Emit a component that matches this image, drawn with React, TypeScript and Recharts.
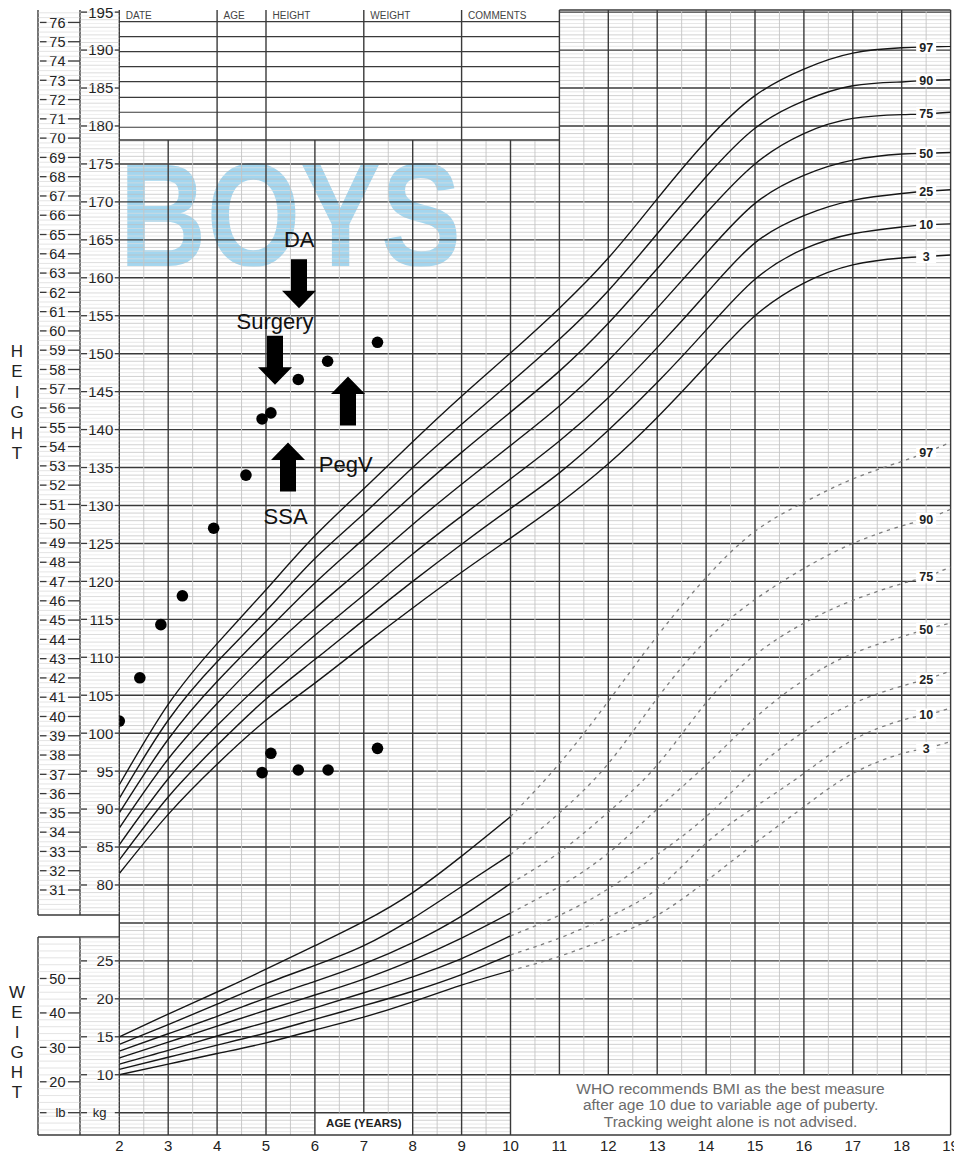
import React from 'react';
import {
  ComposedChart,
  Line,
  Scatter,
  XAxis,
  YAxis,
  ReferenceLine,
  ReferenceDot,
} from 'recharts';

// ---------- reference curves ----------
const heightAges = [2, 3, 4, 5, 6, 7, 8, 9, 10, 11, 12, 13, 14, 15, 16, 17, 18, 18.5, 19];
const heightP97 = [93.2, 103.8, 111.8, 118.9, 126.0, 132.2, 138.4, 144.4, 150.1, 156.0, 162.6, 170.4, 178.0, 184.0, 187.5, 189.6, 190.3, 190.4, 190.5];
const heightP90 = [91.4, 101.7, 109.4, 116.1, 123.0, 128.9, 135.0, 140.7, 146.2, 151.9, 158.3, 165.8, 173.3, 179.7, 183.3, 185.3, 185.8, 186.0, 186.1];
const heightP75 = [89.5, 99.2, 106.8, 113.4, 119.8, 125.6, 131.4, 137.0, 142.3, 147.7, 154.0, 161.2, 168.5, 175.0, 179.0, 181.0, 181.5, 181.6, 181.8];
const heightP50 = [87.5, 96.6, 103.9, 110.5, 116.4, 121.9, 127.5, 132.8, 137.9, 143.1, 149.1, 156.0, 163.2, 169.8, 173.5, 175.5, 176.3, 176.4, 176.5];
const heightP25 = [85.3, 94.0, 101.0, 107.2, 112.9, 118.2, 123.6, 128.6, 133.5, 138.5, 144.2, 150.8, 157.9, 164.6, 168.2, 170.2, 171.1, 171.4, 171.6];
const heightP10 = [83.3, 91.6, 98.4, 104.5, 109.7, 114.9, 120.0, 124.9, 129.6, 134.3, 139.9, 146.2, 153.1, 159.8, 163.8, 165.8, 166.7, 167.0, 167.1];
const heightP3 = [81.5, 89.3, 95.9, 101.7, 106.6, 111.6, 116.5, 121.2, 125.7, 130.3, 135.5, 141.6, 148.4, 155.0, 159.3, 161.7, 162.6, 162.8, 163.0];

// weight in kg, solid part (2-10 y)
const weightAgesEarly = [2, 3, 4, 5, 6, 7, 8, 9, 10];
const weightP97Early = [15.0, 18.0, 20.9, 23.9, 27.0, 30.2, 34.0, 38.8, 44.0];
const weightP90Early = [14.0, 16.6, 19.3, 22.0, 24.4, 27.0, 30.6, 34.8, 39.0];
const weightP75Early = [13.1, 15.4, 17.7, 20.1, 22.3, 24.6, 27.4, 30.9, 35.2];
const weightP50Early = [12.2, 14.3, 16.4, 18.5, 20.5, 22.6, 25.1, 28.0, 31.3];
const weightP25Early = [11.4, 13.2, 15.1, 16.9, 18.8, 20.8, 22.9, 25.3, 28.3];
const weightP10Early = [10.7, 12.3, 13.9, 15.5, 17.3, 19.1, 21.0, 23.2, 25.8];
const weightP3Early = [10.0, 11.4, 12.8, 14.2, 15.9, 17.6, 19.6, 21.8, 23.7];

// weight in kg, dashed part (10-19 y)
const weightAgesLate = [10, 11, 12, 13, 14, 15, 16, 17, 18, 18.5, 19];
const weightP97Late = [44.0, 51.0, 59.2, 67.8, 75.5, 81.6, 85.4, 88.5, 90.8, 92.0, 93.3];
const weightP90Late = [39.0, 44.5, 51.0, 59.6, 67.2, 72.6, 76.7, 80.0, 82.3, 83.2, 84.5];
const weightP75Late = [35.2, 39.3, 44.6, 50.8, 59.0, 65.3, 69.5, 72.5, 74.7, 75.6, 76.9];
const weightP50Late = [31.3, 34.8, 39.2, 45.0, 50.8, 57.0, 62.0, 65.5, 67.7, 68.7, 69.5];
const weightP25Late = [28.3, 31.0, 34.5, 39.0, 44.0, 50.2, 55.2, 58.9, 61.2, 62.1, 63.2];
const weightP10Late = [25.8, 28.0, 30.8, 34.5, 40.5, 45.3, 49.7, 54.1, 56.7, 57.4, 58.3];
const weightP3Late = [23.7, 25.6, 28.0, 31.0, 35.5, 40.5, 45.3, 49.7, 52.3, 53.0, 53.9];

const percentiles = ['97', '90', '75', '50', '25', '10', '3'];

// ---------- patient measurements ----------
const patientHeightAges = [2.0, 2.42, 2.85, 3.29, 3.93, 4.59, 4.92, 5.1, 5.66, 6.26, 7.28];
const patientHeights = [101.6, 107.3, 114.3, 118.1, 127.0, 134.0, 141.4, 142.2, 146.6, 149.0, 151.5];
const patientWeightAges = [4.92, 5.1, 5.66, 6.27, 7.28];
const patientWeights = [49.8, 52.35, 50.15, 50.15, 53.0];

// ---------- annotations ----------
const arrows = [
  { age: 5.675, tip: 156.0, dir: 'down' }, // DA
  { age: 5.184, tip: 145.9, dir: 'down' }, // Surgery
  { age: 6.677, tip: 147.0, dir: 'up' }, // PegV
  { age: 5.45, tip: 138.3, dir: 'up' }, // SSA
];
const notes = [
  { text: 'DA', age: 5.68, cm: 164.0 },
  { text: 'Surgery', age: 5.184, cm: 153.2 },
  { text: 'PegV', age: 6.63, cm: 134.4 },
  { text: 'SSA', age: 5.4, cm: 127.6 },
];
const tableColumns = [
  { label: 'DATE', age: 2 },
  { label: 'AGE', age: 4 },
  { label: 'HEIGHT', age: 5 },
  { label: 'WEIGHT', age: 7 },
  { label: 'COMMENTS', age: 9 },
];
const tableRows = [193.74, 191.76, 189.79, 187.81, 185.84, 183.78, 181.81, 179.83];
const whoNote = [
  'WHO recommends BMI as the best measure',
  'after age 10 due to variable age of puberty.',
  'Tracking weight alone is not advised.',
];

// ---------- tick labels ----------
const xTicks = [2, 3, 4, 5, 6, 7, 8, 9, 10, 11, 12, 13, 14, 15, 16, 17, 18, 19];
const cmLabels = [80, 85, 90, 95, 100, 105, 110, 115, 120, 125, 130, 135, 140, 145, 150, 155, 160, 165, 170, 175, 180, 185, 190, 195];
const kgLabels = [10, 15, 20, 25];
const inchLabels = [31, 32, 33, 34, 35, 36, 37, 38, 39, 40, 41, 42, 43, 44, 45, 46, 47, 48, 49, 50, 51, 52, 53, 54, 55, 56, 57, 58, 59, 60, 61, 62, 63, 64, 65, 66, 67, 68, 69, 70, 71, 72, 73, 74, 75, 76];
const lbLabels = [20, 30, 40, 50];

// ---------- layout ----------
const W = 954;
const H = 1155;
const MARGIN = { top: 10, right: 3.4, bottom: 0, left: 38 };
const IN_W = 42;
const CM_W = 39.3;
const X_H = 20;
const Y_DOMAIN: [number, number] = [47.06, 195.28];
const X_DOMAIN: [number, number] = [2, 19];
const KG_OFFSET = 45; // kg scale shares the cm axis: 10 kg sits on the 55 line
const IN_OFFSET = 0.6;
const TABLE_BOTTOM = 178.16;
const BOX_TOP = 55;
const AGE_BOX_TOP = 50;
const HEIGHT_BOX_BOTTOM = 76.05;
const WEIGHT_BOX_TOP = 73.15;
const FONT = '"Liberation Sans", Arial, Helvetica, sans-serif';

const PLOT_LEFT = MARGIN.left + IN_W + CM_W;
const PLOT_W = W - MARGIN.right - PLOT_LEFT;
const PLOT_H = H - MARGIN.top - X_H;
const PX_PER_CM = PLOT_H / (Y_DOMAIN[1] - Y_DOMAIN[0]);
const AGE_PER_PX = (X_DOMAIN[1] - X_DOMAIN[0]) / PLOT_W;
const COL_LEFT_AGE = X_DOMAIN[0] - (IN_W + CM_W) * AGE_PER_PX;
const COL_MID_AGE = X_DOMAIN[0] - CM_W * AGE_PER_PX;

const DARK = '#3a3a3a';
const CURVE = '#161616';

const key = (v: number) => v.toFixed(3);
const inchToCoord = (i: number) => i * 2.54 + IN_OFFSET;
const lbToCoord = (lb: number) => lb / 2.2046 + KG_OFFSET;

// table rows for the library
const toRows = (ages: number[], vals: number[], add = 0) =>
  ages.map((a, i) => ({ age: a, v: vals[i] + add }));

const heightSeries = [heightP97, heightP90, heightP75, heightP50, heightP25, heightP10, heightP3].map(
  (vals, i) => ({ pct: percentiles[i], values: vals, data: toRows(heightAges, vals) })
);
const weightEarly = [weightP97Early, weightP90Early, weightP75Early, weightP50Early, weightP25Early, weightP10Early, weightP3Early].map(
  (vals) => toRows(weightAgesEarly, vals, KG_OFFSET)
);
const weightLate = [weightP97Late, weightP90Late, weightP75Late, weightP50Late, weightP25Late, weightP10Late, weightP3Late].map(
  (vals, i) => ({ pct: percentiles[i], values: vals, data: toRows(weightAgesLate, vals, KG_OFFSET) })
);
const heightPoints = toRows(patientHeightAges, patientHeights);
const weightPoints = toRows(patientWeightAges, patientWeights, KG_OFFSET);
const LABEL_AGE = 18.5;
const hLabelIdx = heightAges.indexOf(LABEL_AGE);
const wLabelIdx = weightAgesLate.indexOf(LABEL_AGE);

// ---------- grid ----------
type Seg = { x1: number; x2: number; y1: number; y2: number; stroke: string; w: number };
const gridSegs: Seg[] = [];
for (let i = 95; i <= 390; i++) {
  const c = i / 2;
  let spans: [number, number][];
  if (c > TABLE_BOTTOM) spans = [[11, 19]];
  else if (c < AGE_BOX_TOP) spans = [[2, 6], [8, 10]];
  else if (c < BOX_TOP) spans = [[2, 10]];
  else spans = [[2, 19]];
  const major = c % 5 === 0;
  const stroke = major ? DARK : Number.isInteger(c) ? '#bdbdbd' : '#dcdcdc';
  const w = major ? 1.4 : 0.7;
  spans.forEach(([a, b]) => gridSegs.push({ x1: a, x2: b, y1: c, y2: c, stroke, w }));
}
const tableSeps = [2, 4, 5, 7, 9, 11];
for (let j = 4; j <= 38; j++) {
  const a = j / 2;
  let top = Y_DOMAIN[1];
  let bottom = Y_DOMAIN[0];
  if (a < 11 && !tableSeps.includes(a)) top = TABLE_BOTTOM;
  if (a > 10 && a < 19) bottom = BOX_TOP;
  if (a > 6 && a < 8) bottom = AGE_BOX_TOP;
  const major = Number.isInteger(a);
  gridSegs.push({ x1: a, x2: a, y1: bottom, y2: top, stroke: major ? DARK : '#c4c4c4', w: major ? 1.4 : 0.9 });
}
// table, borders, left label columns
tableRows.forEach((c) => gridSegs.push({ x1: 2, x2: 11, y1: c, y2: c, stroke: DARK, w: 1.2 }));
gridSegs.push({ x1: 2, x2: 11, y1: TABLE_BOTTOM, y2: TABLE_BOTTOM, stroke: DARK, w: 1.4 });
gridSegs.push({ x1: 11, x2: 19, y1: Y_DOMAIN[1], y2: Y_DOMAIN[1], stroke: DARK, w: 1.4 });
gridSegs.push({ x1: COL_LEFT_AGE, x2: 19, y1: Y_DOMAIN[0], y2: Y_DOMAIN[0], stroke: DARK, w: 1.6 });
[COL_LEFT_AGE, COL_MID_AGE].forEach((a) => {
  gridSegs.push({ x1: a, x2: a, y1: HEIGHT_BOX_BOTTOM, y2: Y_DOMAIN[1], stroke: DARK, w: 1.4 });
  gridSegs.push({ x1: a, x2: a, y1: Y_DOMAIN[0], y2: WEIGHT_BOX_TOP, stroke: DARK, w: 1.4 });
});
[HEIGHT_BOX_BOTTOM, WEIGHT_BOX_TOP].forEach((c) =>
  gridSegs.push({ x1: COL_LEFT_AGE, x2: 2, y1: c, y2: c, stroke: DARK, w: 1.4 })
);

// ---------- left axis ticks ----------
const cmTicks: number[] = [];
for (let i = 153; i <= 390; i++) cmTicks.push(i / 2);
for (let i = 95; i <= 146; i++) cmTicks.push(i / 2);
const cmLabelAt = new Map<string, string>();
cmLabels.forEach((v) => cmLabelAt.set(key(v), String(v)));
kgLabels.forEach((kg) => cmLabelAt.set(key(kg + KG_OFFSET), String(kg)));
cmLabelAt.set(key(AGE_BOX_TOP), 'kg');

const inTicks: number[] = [];
for (let q = 120; q <= 307; q++) {
  const c = inchToCoord(q / 4);
  if (c > HEIGHT_BOX_BOTTOM + 0.3 && c < Y_DOMAIN[1]) inTicks.push(c);
}
for (let lb = 6; lb <= 62; lb += 2) {
  const c = lbToCoord(lb);
  if (c < WEIGHT_BOX_TOP - 0.3 && c > Y_DOMAIN[0] + 0.3) inTicks.push(c);
}
inTicks.push(AGE_BOX_TOP);
const inLabelAt = new Map<string, string>();
inchLabels.forEach((i) => inLabelAt.set(key(inchToCoord(i)), String(i)));
lbLabels.forEach((lb) => inLabelAt.set(key(lbToCoord(lb)), String(lb)));
inLabelAt.set(key(AGE_BOX_TOP), 'lb');

function CmTick(p: any) {
  const v = p.payload.value;
  const R = p.x;
  const L = R - CM_W;
  const y = p.y;
  const label = cmLabelAt.get(key(v));
  const faint = Number.isInteger(v) ? '#c4c4c4' : '#e2e2e2';
  return (
    <g>
      <line x1={L} x2={R} y1={y} y2={y} stroke={faint} strokeWidth={0.6} />
      {label && (
        <g>
          <line x1={L + 1} x2={L + 7} y1={y} y2={y} stroke={DARK} strokeWidth={1.3} />
          <line x1={R - 4.5} x2={R} y1={y} y2={y} stroke={DARK} strokeWidth={1.3} />
          {label === 'kg' ? (
            <text x={L + 19.5} y={y} dy="0.35em" textAnchor="middle" fontSize={13} fill="#222">kg</text>
          ) : (
            <text x={R - 6} y={y} dy="0.36em" textAnchor="end" fontSize={15} fill="#222">{label}</text>
          )}
        </g>
      )}
    </g>
  );
}

function InTick(p: any) {
  const v = p.payload.value;
  const R = p.x;
  const L = R - IN_W;
  const y = p.y;
  const label = inLabelAt.get(key(v));
  return (
    <g>
      <line x1={L} x2={R} y1={y} y2={y} stroke="#d2d2d2" strokeWidth={0.6} />
      {label && (
        <g>
          <line x1={L + 2} x2={L + 8.5} y1={y} y2={y} stroke={DARK} strokeWidth={1.3} />
          <line x1={L + 30} x2={R} y1={y} y2={y} stroke={DARK} strokeWidth={1.3} />
          <text x={L + 27.5} y={y} dy="0.36em" textAnchor="end" fontSize={label === 'lb' ? 13 : 14.5} fill="#222">{label}</text>
        </g>
      )}
    </g>
  );
}

// ---------- shapes ----------
function Arrow({ cx, cy, dir }: any) {
  const s = dir === 'down' ? -1 : 1;
  const hw = 17;
  const sw = 8;
  const hl = 17.5;
  const len = 49;
  const pts = [[0, 0], [hw, s * hl], [sw, s * hl], [sw, s * len], [-sw, s * len], [-sw, s * hl], [-hw, s * hl]];
  return <polygon points={pts.map(([dx, dy]) => `${cx + dx},${cy + dy}`).join(' ')} fill="#000" />;
}

const pctLabel = (text: string) => (p: any) => (
  <g>
    <rect x={p.cx - 10} y={p.cy - 6.5} width={20} height={13} fill="#fff" />
    <text x={p.cx} y={p.cy} dy="0.36em" textAnchor="middle" fontSize={12.5} fontWeight="bold" fill="#222">{text}</text>
  </g>
);

const patientDot = (p: any) => <circle cx={p.cx} cy={p.cy} r={5.8} fill="#000" />;

const ySVG = (c: number) => MARGIN.top + (Y_DOMAIN[1] - c) * PX_PER_CM;
const sideTitles = [
  { text: 'HEIGHT', top: 351, step: 20.5 },
  { text: 'WEIGHT', top: 991.7, step: 20 },
];

export default function App() {
  return (
    <div style={{ position: 'relative', width: W, height: H, background: '#fff', fontFamily: FONT, overflow: 'hidden' }}>
      <style>{'body{margin:0}'}</style>
      <svg width={W} height={H} style={{ position: 'absolute', left: 0, top: 0 }}>
        <text
          x={PLOT_LEFT}
          y={ySVG(161.6)}
          fontSize={147}
          fontWeight="bold"
          fill="#a3d6ef"
          textLength={342}
          lengthAdjust="spacingAndGlyphs"
        >
          BOYS
        </text>
        {sideTitles.map((t) =>
          t.text.split('').map((ch, i) => (
            <text key={t.text + i} x={17} y={t.top + i * t.step} dy="0.35em" textAnchor="middle" fontSize={17} fill="#222">
              {ch}
            </text>
          ))
        )}
      </svg>
      <ComposedChart width={W} height={H} margin={MARGIN}>
        <XAxis
          type="number"
          dataKey="age"
          domain={X_DOMAIN}
          allowDataOverflow
          ticks={xTicks}
          interval={0}
          height={X_H}
          axisLine={false}
          tickLine={false}
          tickSize={0}
          tickMargin={5}
          tick={{ fontSize: 15, fill: '#222' }}
        />
        <YAxis
          yAxisId="cm"
          type="number"
          domain={Y_DOMAIN}
          allowDataOverflow
          ticks={cmTicks}
          interval={0}
          width={CM_W}
          axisLine={false}
          tickLine={false}
          tickSize={0}
          tickMargin={0}
          tick={(p: any) => <CmTick {...p} />}
        />
        <YAxis
          yAxisId="in"
          type="number"
          domain={Y_DOMAIN}
          allowDataOverflow
          ticks={inTicks}
          interval={0}
          width={IN_W}
          axisLine={false}
          tickLine={false}
          tickSize={0}
          tickMargin={0}
          tick={(p: any) => <InTick {...p} />}
        />

        {gridSegs.map((s, i) => (
          <ReferenceLine
            key={'g' + i}
            yAxisId="cm"
            ifOverflow="visible"
            segment={[{ x: s.x1, y: s.y1 }, { x: s.x2, y: s.y2 }]}
            stroke={s.stroke}
            strokeWidth={s.w}
          />
        ))}

        {heightSeries.map((s) => (
          <Line
            key={'h' + s.pct}
            yAxisId="cm"
            data={s.data}
            dataKey="v"
            type="natural"
            stroke={CURVE}
            strokeWidth={1.4}
            dot={false}
            activeDot={false}
            isAnimationActive={false}
          />
        ))}
        {weightEarly.map((d, i) => (
          <Line
            key={'we' + i}
            yAxisId="cm"
            data={d}
            dataKey="v"
            type="natural"
            stroke={CURVE}
            strokeWidth={1.4}
            dot={false}
            activeDot={false}
            isAnimationActive={false}
          />
        ))}
        {weightLate.map((s) => (
          <Line
            key={'wl' + s.pct}
            yAxisId="cm"
            data={s.data}
            dataKey="v"
            type="natural"
            stroke="#7c7c7c"
            strokeWidth={1.3}
            strokeDasharray="3.5 4.5"
            dot={false}
            activeDot={false}
            isAnimationActive={false}
          />
        ))}

        <Scatter yAxisId="cm" data={heightPoints} dataKey="v" shape={patientDot} isAnimationActive={false} />
        <Scatter yAxisId="cm" data={weightPoints} dataKey="v" shape={patientDot} isAnimationActive={false} />

        {heightSeries.map((s) => (
          <ReferenceDot key={'hl' + s.pct} yAxisId="cm" x={LABEL_AGE} y={s.values[hLabelIdx]} shape={pctLabel(s.pct)} />
        ))}
        {weightLate.map((s) => (
          <ReferenceDot
            key={'wl' + s.pct}
            yAxisId="cm"
            x={LABEL_AGE}
            y={s.values[wLabelIdx] + KG_OFFSET}
            shape={pctLabel(s.pct)}
          />
        ))}

        {arrows.map((a, i) => (
          <ReferenceDot key={'a' + i} yAxisId="cm" x={a.age} y={a.tip} shape={(p: any) => <Arrow {...p} dir={a.dir} />} />
        ))}
        {notes.map((n) => (
          <ReferenceDot
            key={n.text}
            yAxisId="cm"
            x={n.age}
            y={n.cm}
            shape={(p: any) => (
              <text x={p.cx} y={p.cy} textAnchor="middle" fontSize={22} fill="#111">{n.text}</text>
            )}
          />
        ))}
        {tableColumns.map((c) => (
          <ReferenceDot
            key={c.label}
            yAxisId="cm"
            x={c.age}
            y={194.1}
            shape={(p: any) => (
              <text x={p.cx + 6.5} y={p.cy} fontSize={10} fill="#444">{c.label}</text>
            )}
          />
        ))}
        <ReferenceDot
          yAxisId="cm"
          x={7}
          y={48.1}
          shape={(p: any) => (
            <text x={p.cx} y={p.cy} textAnchor="middle" fontSize={11.5} fontWeight="bold" fill="#222">AGE (YEARS)</text>
          )}
        />
        <ReferenceDot
          yAxisId="cm"
          x={14.5}
          y={52.46}
          shape={(p: any) => (
            <text x={p.cx} y={p.cy} textAnchor="middle" fontSize={15.5} fill="#6b6b6b">
              {whoNote.map((t, i) => (
                <tspan key={i} x={p.cx} dy={i === 0 ? 0 : 16.3}>{t}</tspan>
              ))}
            </text>
          )}
        />
      </ComposedChart>
    </div>
  );
}
